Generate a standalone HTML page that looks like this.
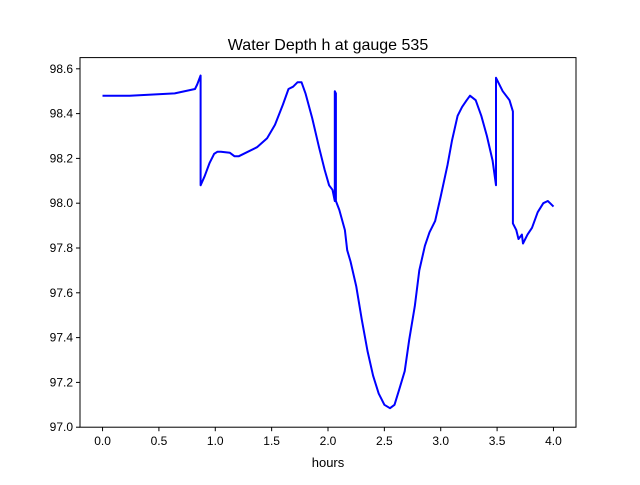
<!DOCTYPE html>
<html><head><meta charset="utf-8"><style>
body{margin:0;background:#fff;}
svg{font-family:"Liberation Sans","DejaVu Sans",sans-serif;}
</style></head><body>
<svg id="chart" width="640" height="480">
<rect width="640" height="480" fill="#fff"/>
<text x="328" y="50" text-anchor="middle" font-size="16">Water Depth h at gauge 535</text>
<text x="328" y="467" text-anchor="middle" font-size="13">hours</text>
<g id="ticks"></g>
<path id="line" fill="none" stroke="#0000ff" stroke-width="2" stroke-linejoin="round"/>
<rect x="80" y="57.6" width="496" height="369.6" fill="none" stroke="#000" stroke-width="1"/>
</svg>
<script>
const hours=[0,0.24,0.64,0.82,0.84,0.87,0.87,0.905,0.95,0.99,1.02,1.05,1.13,1.17,1.21,1.29,1.37,1.46,1.53,1.6,1.65,1.69,1.73,1.765,1.8,1.86,1.92,1.97,2.01,2.04,2.06,2.06,2.07,2.07,2.1,2.15,2.17,2.2,2.25,2.3,2.35,2.4,2.45,2.5,2.55,2.59,2.63,2.68,2.72,2.77,2.81,2.86,2.9,2.95,3.0,3.06,3.1,3.15,3.19,3.23,3.26,3.31,3.36,3.41,3.46,3.49,3.49,3.55,3.61,3.64,3.64,3.67,3.69,3.72,3.73,3.77,3.81,3.86,3.91,3.95,3.97,4.0];
const depth=[98.48,98.48,98.49,98.51,98.53,98.57,98.08,98.12,98.18,98.22,98.23,98.23,98.225,98.21,98.21,98.23,98.25,98.29,98.35,98.44,98.51,98.52,98.54,98.54,98.49,98.38,98.25,98.15,98.08,98.06,98.01,98.5,98.49,98.01,97.97,97.88,97.79,97.74,97.63,97.48,97.34,97.23,97.15,97.1,97.085,97.1,97.165,97.25,97.39,97.54,97.7,97.81,97.87,97.92,98.03,98.17,98.28,98.39,98.43,98.46,98.48,98.46,98.39,98.3,98.19,98.08,98.56,98.5,98.46,98.41,97.91,97.88,97.84,97.86,97.82,97.86,97.89,97.96,98.0,98.01,98.0,97.985];
const xTicks=[0,0.5,1,1.5,2,2.5,3,3.5,4];
const yTicks=[97.0,97.2,97.4,97.6,97.8,98.0,98.2,98.4,98.6];
const L=80,R=576,T=57.6,B=427.2,x0=-0.2,x1=4.2,y0=97.0,y1=98.65;
const sx=v=>L+(v-x0)/(x1-x0)*(R-L);
const sy=v=>B-(v-y0)/(y1-y0)*(B-T);
const NS="http://www.w3.org/2000/svg";
const g=document.getElementById('ticks');
function mk(t,a){const e=document.createElementNS(NS,t);for(const k in a)e.setAttribute(k,a[k]);g.appendChild(e);return e;}
xTicks.forEach(v=>{
 const l=mk('line',{x1:sx(v),x2:sx(v),y1:B,y2:B+4,stroke:'#000'});
 
 
 const t=mk('text',{x:sx(v),y:B+18,'text-anchor':'middle','font-size':12});
 t.textContent=v.toFixed(1);
 
 
});
yTicks.forEach(v=>{
 const l=mk('line',{x1:L-4,x2:L,y1:sy(v),y2:sy(v),stroke:'#000'});
 
 
 const t=mk('text',{x:L-7,y:sy(v)+4,'text-anchor':'end','font-size':12});
 t.textContent=v.toFixed(1);
 
 
});
document.getElementById('line').setAttribute('d',hours.map((h,i)=>(i?'L':'M')+sx(h).toFixed(1)+','+sy(depth[i]).toFixed(1)).join(''));
</script>
</body></html>
